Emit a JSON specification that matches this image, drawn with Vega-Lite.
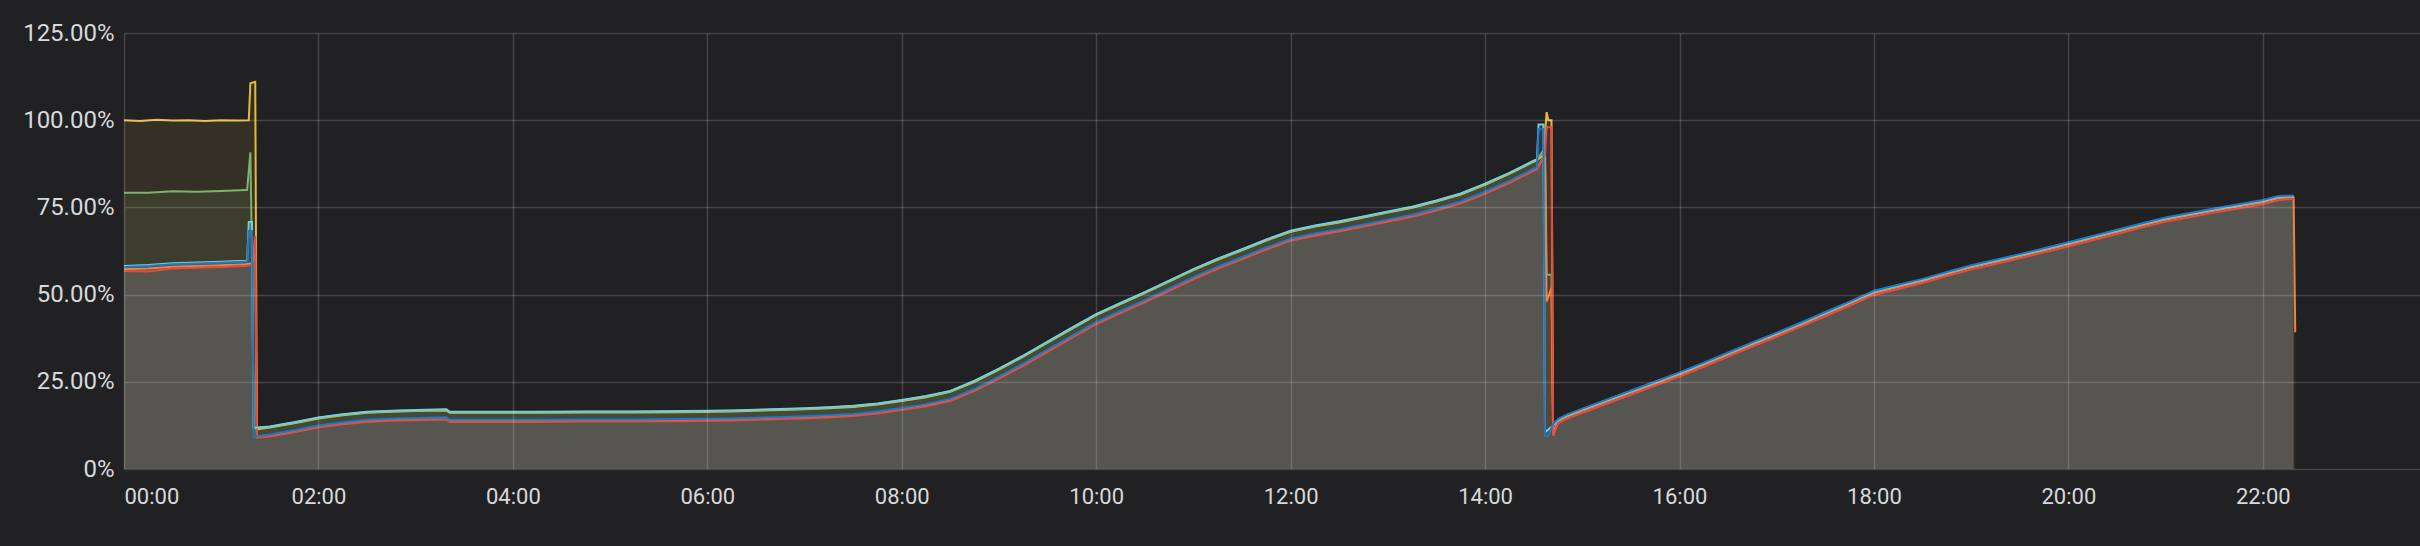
{
  "$schema": "https://vega.github.io/schema/vega-lite/v6.json",
  "width": 2296,
  "height": 436,
  "autosize": {"type": "none"},
  "padding": {"left": 124, "top": 33, "right": 0, "bottom": 77},
  "background": "#212124",
  "config": {
    "view": {"stroke": null},
    "axis": {
      "labelFont": "Roboto",
      "labelColor": "#d8d9da",
      "gridColor": "#ffffff",
      "gridOpacity": 0.16,
      "gridWidth": 1.5,
      "domain": false,
      "ticks": false,
      "title": null
    }
  },
  "data": {
    "values": [
      {"t":"2024-01-01T00:00Z","s":"1Y","v":100.0},{"t":"2024-01-01T00:10Z","s":"1Y","v":99.8},{"t":"2024-01-01T00:20Z","s":"1Y","v":100.1},{"t":"2024-01-01T00:30Z","s":"1Y","v":99.9},{"t":"2024-01-01T00:40Z","s":"1Y","v":100.0},{"t":"2024-01-01T00:50Z","s":"1Y","v":99.8},{"t":"2024-01-01T01:00Z","s":"1Y","v":100.0},{"t":"2024-01-01T01:10Z","s":"1Y","v":99.9},{"t":"2024-01-01T01:17Z","s":"1Y","v":100.0},{"t":"2024-01-01T01:18Z","s":"1Y","v":110.6},{"t":"2024-01-01T01:21Z","s":"1Y","v":111.0},{"t":"2024-01-01T01:22Z","s":"1Y","v":11.4},
      {"t":"2024-01-01T01:30Z","s":"1Y","v":11.9},{"t":"2024-01-01T01:45Z","s":"1Y","v":13.1},{"t":"2024-01-01T02:00Z","s":"1Y","v":14.5},{"t":"2024-01-01T02:15Z","s":"1Y","v":15.4},{"t":"2024-01-01T02:30Z","s":"1Y","v":16.1},{"t":"2024-01-01T02:45Z","s":"1Y","v":16.4},{"t":"2024-01-01T03:00Z","s":"1Y","v":16.6},{"t":"2024-01-01T03:19Z","s":"1Y","v":16.8},{"t":"2024-01-01T03:21Z","s":"1Y","v":16.1},{"t":"2024-01-01T03:45Z","s":"1Y","v":16.1},{"t":"2024-01-01T04:15Z","s":"1Y","v":16.1},{"t":"2024-01-01T04:45Z","s":"1Y","v":16.2},{"t":"2024-01-01T05:15Z","s":"1Y","v":16.2},{"t":"2024-01-01T05:45Z","s":"1Y","v":16.3},{"t":"2024-01-01T06:15Z","s":"1Y","v":16.5},{"t":"2024-01-01T06:30Z","s":"1Y","v":16.7},{"t":"2024-01-01T06:45Z","s":"1Y","v":16.9},{"t":"2024-01-01T07:00Z","s":"1Y","v":17.1},{"t":"2024-01-01T07:15Z","s":"1Y","v":17.4},{"t":"2024-01-01T07:30Z","s":"1Y","v":17.8},{"t":"2024-01-01T07:45Z","s":"1Y","v":18.5},{"t":"2024-01-01T08:00Z","s":"1Y","v":19.5},{"t":"2024-01-01T08:15Z","s":"1Y","v":20.6},{"t":"2024-01-01T08:30Z","s":"1Y","v":22.1},{"t":"2024-01-01T08:45Z","s":"1Y","v":25.0},{"t":"2024-01-01T09:00Z","s":"1Y","v":28.5},{"t":"2024-01-01T09:15Z","s":"1Y","v":32.2},{"t":"2024-01-01T09:30Z","s":"1Y","v":36.2},{"t":"2024-01-01T09:45Z","s":"1Y","v":40.2},{"t":"2024-01-01T10:00Z","s":"1Y","v":44.1},{"t":"2024-01-01T10:15Z","s":"1Y","v":47.3},{"t":"2024-01-01T10:30Z","s":"1Y","v":50.4},{"t":"2024-01-01T10:45Z","s":"1Y","v":53.7},{"t":"2024-01-01T11:00Z","s":"1Y","v":57.0},{"t":"2024-01-01T11:15Z","s":"1Y","v":60.0},{"t":"2024-01-01T11:30Z","s":"1Y","v":62.7},{"t":"2024-01-01T11:45Z","s":"1Y","v":65.5},{"t":"2024-01-01T12:00Z","s":"1Y","v":68.0},{"t":"2024-01-01T12:15Z","s":"1Y","v":69.5},{"t":"2024-01-01T12:30Z","s":"1Y","v":70.7},{"t":"2024-01-01T12:45Z","s":"1Y","v":72.1},{"t":"2024-01-01T13:00Z","s":"1Y","v":73.5},{"t":"2024-01-01T13:15Z","s":"1Y","v":74.9},{"t":"2024-01-01T13:30Z","s":"1Y","v":76.7},{"t":"2024-01-01T13:45Z","s":"1Y","v":78.7},{"t":"2024-01-01T14:00Z","s":"1Y","v":81.5},{"t":"2024-01-01T14:15Z","s":"1Y","v":84.6},{"t":"2024-01-01T14:30Z","s":"1Y","v":88.1},{"t":"2024-01-01T14:32Z","s":"1Y","v":88.5},{"t":"2024-01-01T14:36Z","s":"1Y","v":90.0},{"t":"2024-01-01T14:38Z","s":"1Y","v":102.3},{"t":"2024-01-01T14:39Z","s":"1Y","v":100.0},{"t":"2024-01-01T14:41Z","s":"1Y","v":100.0},{"t":"2024-01-01T14:42Z","s":"1Y","v":10.0},
      {"t":"2024-01-01T14:45Z","s":"1Y","v":13.9},{"t":"2024-01-01T14:50Z","s":"1Y","v":15.1},{"t":"2024-01-01T15:00Z","s":"1Y","v":16.9},{"t":"2024-01-01T15:15Z","s":"1Y","v":19.5},{"t":"2024-01-01T15:30Z","s":"1Y","v":22.1},{"t":"2024-01-01T15:45Z","s":"1Y","v":24.7},{"t":"2024-01-01T16:00Z","s":"1Y","v":27.3},{"t":"2024-01-01T16:15Z","s":"1Y","v":30.1},{"t":"2024-01-01T16:30Z","s":"1Y","v":33.0},{"t":"2024-01-01T16:45Z","s":"1Y","v":35.9},{"t":"2024-01-01T17:00Z","s":"1Y","v":38.7},{"t":"2024-01-01T17:15Z","s":"1Y","v":41.6},{"t":"2024-01-01T17:30Z","s":"1Y","v":44.6},{"t":"2024-01-01T17:45Z","s":"1Y","v":47.6},{"t":"2024-01-01T18:00Z","s":"1Y","v":50.7},{"t":"2024-01-01T18:15Z","s":"1Y","v":52.4},{"t":"2024-01-01T18:30Z","s":"1Y","v":54.1},{"t":"2024-01-01T18:45Z","s":"1Y","v":56.1},{"t":"2024-01-01T19:00Z","s":"1Y","v":58.0},{"t":"2024-01-01T19:15Z","s":"1Y","v":59.6},{"t":"2024-01-01T19:30Z","s":"1Y","v":61.2},{"t":"2024-01-01T19:45Z","s":"1Y","v":62.9},{"t":"2024-01-01T20:00Z","s":"1Y","v":64.6},{"t":"2024-01-01T20:15Z","s":"1Y","v":66.4},{"t":"2024-01-01T20:30Z","s":"1Y","v":68.2},{"t":"2024-01-01T20:45Z","s":"1Y","v":70.0},{"t":"2024-01-01T21:00Z","s":"1Y","v":71.7},{"t":"2024-01-01T21:15Z","s":"1Y","v":73.0},{"t":"2024-01-01T21:30Z","s":"1Y","v":74.3},{"t":"2024-01-01T21:45Z","s":"1Y","v":75.5},{"t":"2024-01-01T22:00Z","s":"1Y","v":76.7},{"t":"2024-01-01T22:10Z","s":"1Y","v":77.9},{"t":"2024-01-01T22:19Z","s":"1Y","v":78.0},

      {"t":"2024-01-01T00:00Z","s":"2G","v":79.2},{"t":"2024-01-01T00:15Z","s":"2G","v":79.2},{"t":"2024-01-01T00:30Z","s":"2G","v":79.6},{"t":"2024-01-01T00:45Z","s":"2G","v":79.5},{"t":"2024-01-01T01:00Z","s":"2G","v":79.7},{"t":"2024-01-01T01:15Z","s":"2G","v":80.0},{"t":"2024-01-01T01:16Z","s":"2G","v":80.0},{"t":"2024-01-01T01:18Z","s":"2G","v":90.8},{"t":"2024-01-01T01:19Z","s":"2G","v":61.0},{"t":"2024-01-01T01:20Z","s":"2G","v":11.7},
      {"t":"2024-01-01T01:30Z","s":"2G","v":12.1},{"t":"2024-01-01T01:45Z","s":"2G","v":13.3},{"t":"2024-01-01T02:00Z","s":"2G","v":14.7},{"t":"2024-01-01T02:15Z","s":"2G","v":15.6},{"t":"2024-01-01T02:30Z","s":"2G","v":16.3},{"t":"2024-01-01T02:45Z","s":"2G","v":16.6},{"t":"2024-01-01T03:00Z","s":"2G","v":16.8},{"t":"2024-01-01T03:19Z","s":"2G","v":17.0},{"t":"2024-01-01T03:21Z","s":"2G","v":16.3},{"t":"2024-01-01T03:45Z","s":"2G","v":16.3},{"t":"2024-01-01T04:15Z","s":"2G","v":16.3},{"t":"2024-01-01T04:45Z","s":"2G","v":16.4},{"t":"2024-01-01T05:15Z","s":"2G","v":16.4},{"t":"2024-01-01T05:45Z","s":"2G","v":16.5},{"t":"2024-01-01T06:15Z","s":"2G","v":16.7},{"t":"2024-01-01T06:30Z","s":"2G","v":16.9},{"t":"2024-01-01T06:45Z","s":"2G","v":17.1},{"t":"2024-01-01T07:00Z","s":"2G","v":17.3},{"t":"2024-01-01T07:15Z","s":"2G","v":17.6},{"t":"2024-01-01T07:30Z","s":"2G","v":18.0},{"t":"2024-01-01T07:45Z","s":"2G","v":18.7},{"t":"2024-01-01T08:00Z","s":"2G","v":19.7},{"t":"2024-01-01T08:15Z","s":"2G","v":20.8},{"t":"2024-01-01T08:30Z","s":"2G","v":22.3},{"t":"2024-01-01T08:45Z","s":"2G","v":25.2},{"t":"2024-01-01T09:00Z","s":"2G","v":28.7},{"t":"2024-01-01T09:15Z","s":"2G","v":32.4},{"t":"2024-01-01T09:30Z","s":"2G","v":36.4},{"t":"2024-01-01T09:45Z","s":"2G","v":40.4},{"t":"2024-01-01T10:00Z","s":"2G","v":44.3},{"t":"2024-01-01T10:15Z","s":"2G","v":47.5},{"t":"2024-01-01T10:30Z","s":"2G","v":50.6},{"t":"2024-01-01T10:45Z","s":"2G","v":53.9},{"t":"2024-01-01T11:00Z","s":"2G","v":57.2},{"t":"2024-01-01T11:15Z","s":"2G","v":60.2},{"t":"2024-01-01T11:30Z","s":"2G","v":62.9},{"t":"2024-01-01T11:45Z","s":"2G","v":65.7},{"t":"2024-01-01T12:00Z","s":"2G","v":68.2},{"t":"2024-01-01T12:15Z","s":"2G","v":69.7},{"t":"2024-01-01T12:30Z","s":"2G","v":70.9},{"t":"2024-01-01T12:45Z","s":"2G","v":72.3},{"t":"2024-01-01T13:00Z","s":"2G","v":73.7},{"t":"2024-01-01T13:15Z","s":"2G","v":75.1},{"t":"2024-01-01T13:30Z","s":"2G","v":76.9},{"t":"2024-01-01T13:45Z","s":"2G","v":78.9},{"t":"2024-01-01T14:00Z","s":"2G","v":81.7},{"t":"2024-01-01T14:15Z","s":"2G","v":84.8},{"t":"2024-01-01T14:30Z","s":"2G","v":88.3},{"t":"2024-01-01T14:32Z","s":"2G","v":88.7},{"t":"2024-01-01T14:37Z","s":"2G","v":92.0},{"t":"2024-01-01T14:38Z","s":"2G","v":55.7},{"t":"2024-01-01T14:41Z","s":"2G","v":55.7},{"t":"2024-01-01T14:42Z","s":"2G","v":10.2},
      {"t":"2024-01-01T14:45Z","s":"2G","v":13.8},{"t":"2024-01-01T14:50Z","s":"2G","v":15.0},{"t":"2024-01-01T15:00Z","s":"2G","v":16.8},{"t":"2024-01-01T15:15Z","s":"2G","v":19.4},{"t":"2024-01-01T15:30Z","s":"2G","v":22.0},{"t":"2024-01-01T15:45Z","s":"2G","v":24.6},{"t":"2024-01-01T16:00Z","s":"2G","v":27.2},{"t":"2024-01-01T16:15Z","s":"2G","v":30.0},{"t":"2024-01-01T16:30Z","s":"2G","v":32.9},{"t":"2024-01-01T16:45Z","s":"2G","v":35.8},{"t":"2024-01-01T17:00Z","s":"2G","v":38.6},{"t":"2024-01-01T17:15Z","s":"2G","v":41.5},{"t":"2024-01-01T17:30Z","s":"2G","v":44.5},{"t":"2024-01-01T17:45Z","s":"2G","v":47.5},{"t":"2024-01-01T18:00Z","s":"2G","v":50.6},{"t":"2024-01-01T18:15Z","s":"2G","v":52.3},{"t":"2024-01-01T18:30Z","s":"2G","v":54.0},{"t":"2024-01-01T18:45Z","s":"2G","v":56.0},{"t":"2024-01-01T19:00Z","s":"2G","v":57.9},{"t":"2024-01-01T19:15Z","s":"2G","v":59.5},{"t":"2024-01-01T19:30Z","s":"2G","v":61.1},{"t":"2024-01-01T19:45Z","s":"2G","v":62.8},{"t":"2024-01-01T20:00Z","s":"2G","v":64.5},{"t":"2024-01-01T20:15Z","s":"2G","v":66.3},{"t":"2024-01-01T20:30Z","s":"2G","v":68.1},{"t":"2024-01-01T20:45Z","s":"2G","v":69.9},{"t":"2024-01-01T21:00Z","s":"2G","v":71.6},{"t":"2024-01-01T21:15Z","s":"2G","v":72.9},{"t":"2024-01-01T21:30Z","s":"2G","v":74.2},{"t":"2024-01-01T21:45Z","s":"2G","v":75.4},{"t":"2024-01-01T22:00Z","s":"2G","v":76.6},{"t":"2024-01-01T22:10Z","s":"2G","v":77.8},{"t":"2024-01-01T22:19Z","s":"2G","v":77.9},

      {"t":"2024-01-01T00:00Z","s":"3O","v":57.3},{"t":"2024-01-01T00:15Z","s":"3O","v":57.5},{"t":"2024-01-01T00:30Z","s":"3O","v":58.0},{"t":"2024-01-01T00:45Z","s":"3O","v":58.2},{"t":"2024-01-01T01:00Z","s":"3O","v":58.4},{"t":"2024-01-01T01:15Z","s":"3O","v":58.7},{"t":"2024-01-01T01:19Z","s":"3O","v":59.0},{"t":"2024-01-01T01:21Z","s":"3O","v":62.0},{"t":"2024-01-01T01:22Z","s":"3O","v":9.4},
      {"t":"2024-01-01T01:30Z","s":"3O","v":9.6},{"t":"2024-01-01T01:45Z","s":"3O","v":10.8},{"t":"2024-01-01T02:00Z","s":"3O","v":12.2},{"t":"2024-01-01T02:15Z","s":"3O","v":13.1},{"t":"2024-01-01T02:30Z","s":"3O","v":13.8},{"t":"2024-01-01T02:45Z","s":"3O","v":14.1},{"t":"2024-01-01T03:00Z","s":"3O","v":14.3},{"t":"2024-01-01T03:19Z","s":"3O","v":14.5},{"t":"2024-01-01T03:21Z","s":"3O","v":13.8},{"t":"2024-01-01T03:45Z","s":"3O","v":13.8},{"t":"2024-01-01T04:15Z","s":"3O","v":13.8},{"t":"2024-01-01T04:45Z","s":"3O","v":13.9},{"t":"2024-01-01T05:15Z","s":"3O","v":13.9},{"t":"2024-01-01T05:45Z","s":"3O","v":14.0},{"t":"2024-01-01T06:15Z","s":"3O","v":14.2},{"t":"2024-01-01T06:30Z","s":"3O","v":14.4},{"t":"2024-01-01T06:45Z","s":"3O","v":14.6},{"t":"2024-01-01T07:00Z","s":"3O","v":14.8},{"t":"2024-01-01T07:15Z","s":"3O","v":15.1},{"t":"2024-01-01T07:30Z","s":"3O","v":15.5},{"t":"2024-01-01T07:45Z","s":"3O","v":16.2},{"t":"2024-01-01T08:00Z","s":"3O","v":17.2},{"t":"2024-01-01T08:15Z","s":"3O","v":18.3},{"t":"2024-01-01T08:30Z","s":"3O","v":19.8},{"t":"2024-01-01T08:45Z","s":"3O","v":22.7},{"t":"2024-01-01T09:00Z","s":"3O","v":26.2},{"t":"2024-01-01T09:15Z","s":"3O","v":29.9},{"t":"2024-01-01T09:30Z","s":"3O","v":33.9},{"t":"2024-01-01T09:45Z","s":"3O","v":37.9},{"t":"2024-01-01T10:00Z","s":"3O","v":41.8},{"t":"2024-01-01T10:15Z","s":"3O","v":45.0},{"t":"2024-01-01T10:30Z","s":"3O","v":48.1},{"t":"2024-01-01T10:45Z","s":"3O","v":51.4},{"t":"2024-01-01T11:00Z","s":"3O","v":54.7},{"t":"2024-01-01T11:15Z","s":"3O","v":57.7},{"t":"2024-01-01T11:30Z","s":"3O","v":60.4},{"t":"2024-01-01T11:45Z","s":"3O","v":63.2},{"t":"2024-01-01T12:00Z","s":"3O","v":65.7},{"t":"2024-01-01T12:15Z","s":"3O","v":67.2},{"t":"2024-01-01T12:30Z","s":"3O","v":68.4},{"t":"2024-01-01T12:45Z","s":"3O","v":69.8},{"t":"2024-01-01T13:00Z","s":"3O","v":71.2},{"t":"2024-01-01T13:15Z","s":"3O","v":72.6},{"t":"2024-01-01T13:30Z","s":"3O","v":74.4},{"t":"2024-01-01T13:45Z","s":"3O","v":76.4},{"t":"2024-01-01T14:00Z","s":"3O","v":79.2},{"t":"2024-01-01T14:15Z","s":"3O","v":82.3},{"t":"2024-01-01T14:30Z","s":"3O","v":85.8},{"t":"2024-01-01T14:32Z","s":"3O","v":86.2},{"t":"2024-01-01T14:37Z","s":"3O","v":90.0},{"t":"2024-01-01T14:38Z","s":"3O","v":48.0},{"t":"2024-01-01T14:41Z","s":"3O","v":52.0},{"t":"2024-01-01T14:42Z","s":"3O","v":9.8},
      {"t":"2024-01-01T14:45Z","s":"3O","v":13.7},{"t":"2024-01-01T14:50Z","s":"3O","v":14.9},{"t":"2024-01-01T15:00Z","s":"3O","v":16.7},{"t":"2024-01-01T15:15Z","s":"3O","v":19.3},{"t":"2024-01-01T15:30Z","s":"3O","v":21.9},{"t":"2024-01-01T15:45Z","s":"3O","v":24.5},{"t":"2024-01-01T16:00Z","s":"3O","v":27.1},{"t":"2024-01-01T16:15Z","s":"3O","v":29.9},{"t":"2024-01-01T16:30Z","s":"3O","v":32.8},{"t":"2024-01-01T16:45Z","s":"3O","v":35.7},{"t":"2024-01-01T17:00Z","s":"3O","v":38.5},{"t":"2024-01-01T17:15Z","s":"3O","v":41.4},{"t":"2024-01-01T17:30Z","s":"3O","v":44.4},{"t":"2024-01-01T17:45Z","s":"3O","v":47.4},{"t":"2024-01-01T18:00Z","s":"3O","v":50.5},{"t":"2024-01-01T18:15Z","s":"3O","v":52.2},{"t":"2024-01-01T18:30Z","s":"3O","v":53.9},{"t":"2024-01-01T18:45Z","s":"3O","v":55.9},{"t":"2024-01-01T19:00Z","s":"3O","v":57.8},{"t":"2024-01-01T19:15Z","s":"3O","v":59.4},{"t":"2024-01-01T19:30Z","s":"3O","v":61.0},{"t":"2024-01-01T19:45Z","s":"3O","v":62.7},{"t":"2024-01-01T20:00Z","s":"3O","v":64.4},{"t":"2024-01-01T20:15Z","s":"3O","v":66.2},{"t":"2024-01-01T20:30Z","s":"3O","v":68.0},{"t":"2024-01-01T20:45Z","s":"3O","v":69.8},{"t":"2024-01-01T21:00Z","s":"3O","v":71.5},{"t":"2024-01-01T21:15Z","s":"3O","v":72.8},{"t":"2024-01-01T21:30Z","s":"3O","v":74.1},{"t":"2024-01-01T21:45Z","s":"3O","v":75.3},{"t":"2024-01-01T22:00Z","s":"3O","v":76.5},{"t":"2024-01-01T22:10Z","s":"3O","v":77.7},{"t":"2024-01-01T22:19Z","s":"3O","v":77.8},{"t":"2024-01-01T22:20Z","s":"3O","v":39.2},

      {"t":"2024-01-01T00:00Z","s":"4R","v":56.8},{"t":"2024-01-01T00:15Z","s":"4R","v":56.6},{"t":"2024-01-01T00:30Z","s":"4R","v":57.5},{"t":"2024-01-01T00:45Z","s":"4R","v":57.7},{"t":"2024-01-01T01:00Z","s":"4R","v":57.9},{"t":"2024-01-01T01:15Z","s":"4R","v":58.2},{"t":"2024-01-01T01:19Z","s":"4R","v":58.5},{"t":"2024-01-01T01:21Z","s":"4R","v":66.8},{"t":"2024-01-01T01:22Z","s":"4R","v":9.0},
      {"t":"2024-01-01T01:30Z","s":"4R","v":9.3},{"t":"2024-01-01T01:45Z","s":"4R","v":10.5},{"t":"2024-01-01T02:00Z","s":"4R","v":11.9},{"t":"2024-01-01T02:15Z","s":"4R","v":12.8},{"t":"2024-01-01T02:30Z","s":"4R","v":13.5},{"t":"2024-01-01T02:45Z","s":"4R","v":13.8},{"t":"2024-01-01T03:00Z","s":"4R","v":14.0},{"t":"2024-01-01T03:19Z","s":"4R","v":14.2},{"t":"2024-01-01T03:21Z","s":"4R","v":13.5},{"t":"2024-01-01T03:45Z","s":"4R","v":13.5},{"t":"2024-01-01T04:15Z","s":"4R","v":13.5},{"t":"2024-01-01T04:45Z","s":"4R","v":13.6},{"t":"2024-01-01T05:15Z","s":"4R","v":13.6},{"t":"2024-01-01T05:45Z","s":"4R","v":13.7},{"t":"2024-01-01T06:15Z","s":"4R","v":13.9},{"t":"2024-01-01T06:30Z","s":"4R","v":14.1},{"t":"2024-01-01T06:45Z","s":"4R","v":14.3},{"t":"2024-01-01T07:00Z","s":"4R","v":14.5},{"t":"2024-01-01T07:15Z","s":"4R","v":14.8},{"t":"2024-01-01T07:30Z","s":"4R","v":15.2},{"t":"2024-01-01T07:45Z","s":"4R","v":15.9},{"t":"2024-01-01T08:00Z","s":"4R","v":16.9},{"t":"2024-01-01T08:15Z","s":"4R","v":18.0},{"t":"2024-01-01T08:30Z","s":"4R","v":19.5},{"t":"2024-01-01T08:45Z","s":"4R","v":22.4},{"t":"2024-01-01T09:00Z","s":"4R","v":25.9},{"t":"2024-01-01T09:15Z","s":"4R","v":29.6},{"t":"2024-01-01T09:30Z","s":"4R","v":33.6},{"t":"2024-01-01T09:45Z","s":"4R","v":37.6},{"t":"2024-01-01T10:00Z","s":"4R","v":41.5},{"t":"2024-01-01T10:15Z","s":"4R","v":44.7},{"t":"2024-01-01T10:30Z","s":"4R","v":47.8},{"t":"2024-01-01T10:45Z","s":"4R","v":51.1},{"t":"2024-01-01T11:00Z","s":"4R","v":54.4},{"t":"2024-01-01T11:15Z","s":"4R","v":57.4},{"t":"2024-01-01T11:30Z","s":"4R","v":60.1},{"t":"2024-01-01T11:45Z","s":"4R","v":62.9},{"t":"2024-01-01T12:00Z","s":"4R","v":65.4},{"t":"2024-01-01T12:15Z","s":"4R","v":66.9},{"t":"2024-01-01T12:30Z","s":"4R","v":68.1},{"t":"2024-01-01T12:45Z","s":"4R","v":69.5},{"t":"2024-01-01T13:00Z","s":"4R","v":70.9},{"t":"2024-01-01T13:15Z","s":"4R","v":72.3},{"t":"2024-01-01T13:30Z","s":"4R","v":74.1},{"t":"2024-01-01T13:45Z","s":"4R","v":76.1},{"t":"2024-01-01T14:00Z","s":"4R","v":78.9},{"t":"2024-01-01T14:15Z","s":"4R","v":82.0},{"t":"2024-01-01T14:30Z","s":"4R","v":85.5},{"t":"2024-01-01T14:32Z","s":"4R","v":85.9},{"t":"2024-01-01T14:37Z","s":"4R","v":90.0},{"t":"2024-01-01T14:38Z","s":"4R","v":98.0},{"t":"2024-01-01T14:41Z","s":"4R","v":98.0},{"t":"2024-01-01T14:42Z","s":"4R","v":9.5},
      {"t":"2024-01-01T14:45Z","s":"4R","v":13.1},{"t":"2024-01-01T14:50Z","s":"4R","v":14.3},{"t":"2024-01-01T15:00Z","s":"4R","v":16.1},{"t":"2024-01-01T15:15Z","s":"4R","v":18.7},{"t":"2024-01-01T15:30Z","s":"4R","v":21.3},{"t":"2024-01-01T15:45Z","s":"4R","v":23.9},{"t":"2024-01-01T16:00Z","s":"4R","v":26.5},{"t":"2024-01-01T16:15Z","s":"4R","v":29.3},{"t":"2024-01-01T16:30Z","s":"4R","v":32.2},{"t":"2024-01-01T16:45Z","s":"4R","v":35.1},{"t":"2024-01-01T17:00Z","s":"4R","v":37.9},{"t":"2024-01-01T17:15Z","s":"4R","v":40.8},{"t":"2024-01-01T17:30Z","s":"4R","v":43.8},{"t":"2024-01-01T17:45Z","s":"4R","v":46.8},{"t":"2024-01-01T18:00Z","s":"4R","v":49.9},{"t":"2024-01-01T18:15Z","s":"4R","v":51.6},{"t":"2024-01-01T18:30Z","s":"4R","v":53.3},{"t":"2024-01-01T18:45Z","s":"4R","v":55.3},{"t":"2024-01-01T19:00Z","s":"4R","v":57.2},{"t":"2024-01-01T19:15Z","s":"4R","v":58.8},{"t":"2024-01-01T19:30Z","s":"4R","v":60.4},{"t":"2024-01-01T19:45Z","s":"4R","v":62.1},{"t":"2024-01-01T20:00Z","s":"4R","v":63.8},{"t":"2024-01-01T20:15Z","s":"4R","v":65.6},{"t":"2024-01-01T20:30Z","s":"4R","v":67.4},{"t":"2024-01-01T20:45Z","s":"4R","v":69.2},{"t":"2024-01-01T21:00Z","s":"4R","v":70.9},{"t":"2024-01-01T21:15Z","s":"4R","v":72.2},{"t":"2024-01-01T21:30Z","s":"4R","v":73.5},{"t":"2024-01-01T21:45Z","s":"4R","v":74.7},{"t":"2024-01-01T22:00Z","s":"4R","v":75.9},{"t":"2024-01-01T22:10Z","s":"4R","v":77.1},{"t":"2024-01-01T22:19Z","s":"4R","v":77.5},

      {"t":"2024-01-01T00:00Z","s":"5C","v":58.2},{"t":"2024-01-01T00:15Z","s":"5C","v":58.5},{"t":"2024-01-01T00:30Z","s":"5C","v":59.0},{"t":"2024-01-01T00:45Z","s":"5C","v":59.2},{"t":"2024-01-01T01:00Z","s":"5C","v":59.4},{"t":"2024-01-01T01:15Z","s":"5C","v":59.7},{"t":"2024-01-01T01:16Z","s":"5C","v":59.8},{"t":"2024-01-01T01:17Z","s":"5C","v":70.8},{"t":"2024-01-01T01:19Z","s":"5C","v":70.8},{"t":"2024-01-01T01:20Z","s":"5C","v":11.8},
      {"t":"2024-01-01T01:30Z","s":"5C","v":12.2},{"t":"2024-01-01T01:45Z","s":"5C","v":13.4},{"t":"2024-01-01T02:00Z","s":"5C","v":14.8},{"t":"2024-01-01T02:15Z","s":"5C","v":15.7},{"t":"2024-01-01T02:30Z","s":"5C","v":16.4},{"t":"2024-01-01T02:45Z","s":"5C","v":16.7},{"t":"2024-01-01T03:00Z","s":"5C","v":16.9},{"t":"2024-01-01T03:19Z","s":"5C","v":17.1},{"t":"2024-01-01T03:21Z","s":"5C","v":16.4},{"t":"2024-01-01T03:45Z","s":"5C","v":16.4},{"t":"2024-01-01T04:15Z","s":"5C","v":16.4},{"t":"2024-01-01T04:45Z","s":"5C","v":16.5},{"t":"2024-01-01T05:15Z","s":"5C","v":16.5},{"t":"2024-01-01T05:45Z","s":"5C","v":16.6},{"t":"2024-01-01T06:15Z","s":"5C","v":16.8},{"t":"2024-01-01T06:30Z","s":"5C","v":17.0},{"t":"2024-01-01T06:45Z","s":"5C","v":17.2},{"t":"2024-01-01T07:00Z","s":"5C","v":17.4},{"t":"2024-01-01T07:15Z","s":"5C","v":17.7},{"t":"2024-01-01T07:30Z","s":"5C","v":18.1},{"t":"2024-01-01T07:45Z","s":"5C","v":18.8},{"t":"2024-01-01T08:00Z","s":"5C","v":19.8},{"t":"2024-01-01T08:15Z","s":"5C","v":20.9},{"t":"2024-01-01T08:30Z","s":"5C","v":22.4},{"t":"2024-01-01T08:45Z","s":"5C","v":25.3},{"t":"2024-01-01T09:00Z","s":"5C","v":28.8},{"t":"2024-01-01T09:15Z","s":"5C","v":32.5},{"t":"2024-01-01T09:30Z","s":"5C","v":36.5},{"t":"2024-01-01T09:45Z","s":"5C","v":40.5},{"t":"2024-01-01T10:00Z","s":"5C","v":44.4},{"t":"2024-01-01T10:15Z","s":"5C","v":47.6},{"t":"2024-01-01T10:30Z","s":"5C","v":50.7},{"t":"2024-01-01T10:45Z","s":"5C","v":54.0},{"t":"2024-01-01T11:00Z","s":"5C","v":57.3},{"t":"2024-01-01T11:15Z","s":"5C","v":60.3},{"t":"2024-01-01T11:30Z","s":"5C","v":63.0},{"t":"2024-01-01T11:45Z","s":"5C","v":65.8},{"t":"2024-01-01T12:00Z","s":"5C","v":68.3},{"t":"2024-01-01T12:15Z","s":"5C","v":69.8},{"t":"2024-01-01T12:30Z","s":"5C","v":71.0},{"t":"2024-01-01T12:45Z","s":"5C","v":72.4},{"t":"2024-01-01T13:00Z","s":"5C","v":73.8},{"t":"2024-01-01T13:15Z","s":"5C","v":75.2},{"t":"2024-01-01T13:30Z","s":"5C","v":77.0},{"t":"2024-01-01T13:45Z","s":"5C","v":79.0},{"t":"2024-01-01T14:00Z","s":"5C","v":81.8},{"t":"2024-01-01T14:15Z","s":"5C","v":84.9},{"t":"2024-01-01T14:30Z","s":"5C","v":88.4},{"t":"2024-01-01T14:32Z","s":"5C","v":88.8},{"t":"2024-01-01T14:33Z","s":"5C","v":98.8},{"t":"2024-01-01T14:36Z","s":"5C","v":98.8},{"t":"2024-01-01T14:37Z","s":"5C","v":10.5},
      {"t":"2024-01-01T14:42Z","s":"5C","v":12.5},{"t":"2024-01-01T14:45Z","s":"5C","v":14.1},{"t":"2024-01-01T14:50Z","s":"5C","v":15.3},{"t":"2024-01-01T15:00Z","s":"5C","v":17.1},{"t":"2024-01-01T15:15Z","s":"5C","v":19.7},{"t":"2024-01-01T15:30Z","s":"5C","v":22.3},{"t":"2024-01-01T15:45Z","s":"5C","v":24.9},{"t":"2024-01-01T16:00Z","s":"5C","v":27.5},{"t":"2024-01-01T16:15Z","s":"5C","v":30.3},{"t":"2024-01-01T16:30Z","s":"5C","v":33.2},{"t":"2024-01-01T16:45Z","s":"5C","v":36.1},{"t":"2024-01-01T17:00Z","s":"5C","v":38.9},{"t":"2024-01-01T17:15Z","s":"5C","v":41.8},{"t":"2024-01-01T17:30Z","s":"5C","v":44.8},{"t":"2024-01-01T17:45Z","s":"5C","v":47.8},{"t":"2024-01-01T18:00Z","s":"5C","v":50.9},{"t":"2024-01-01T18:15Z","s":"5C","v":52.6},{"t":"2024-01-01T18:30Z","s":"5C","v":54.3},{"t":"2024-01-01T18:45Z","s":"5C","v":56.3},{"t":"2024-01-01T19:00Z","s":"5C","v":58.2},{"t":"2024-01-01T19:15Z","s":"5C","v":59.8},{"t":"2024-01-01T19:30Z","s":"5C","v":61.4},{"t":"2024-01-01T19:45Z","s":"5C","v":63.1},{"t":"2024-01-01T20:00Z","s":"5C","v":64.8},{"t":"2024-01-01T20:15Z","s":"5C","v":66.6},{"t":"2024-01-01T20:30Z","s":"5C","v":68.4},{"t":"2024-01-01T20:45Z","s":"5C","v":70.2},{"t":"2024-01-01T21:00Z","s":"5C","v":71.9},{"t":"2024-01-01T21:15Z","s":"5C","v":73.2},{"t":"2024-01-01T21:30Z","s":"5C","v":74.5},{"t":"2024-01-01T21:45Z","s":"5C","v":75.7},{"t":"2024-01-01T22:00Z","s":"5C","v":76.9},{"t":"2024-01-01T22:10Z","s":"5C","v":78.1},{"t":"2024-01-01T22:19Z","s":"5C","v":78.2},

      {"t":"2024-01-01T00:00Z","s":"6B","v":57.9},{"t":"2024-01-01T00:15Z","s":"6B","v":58.2},{"t":"2024-01-01T00:30Z","s":"6B","v":58.7},{"t":"2024-01-01T00:45Z","s":"6B","v":58.9},{"t":"2024-01-01T01:00Z","s":"6B","v":59.1},{"t":"2024-01-01T01:15Z","s":"6B","v":59.4},{"t":"2024-01-01T01:16Z","s":"6B","v":59.4},{"t":"2024-01-01T01:17Z","s":"6B","v":68.2},{"t":"2024-01-01T01:19Z","s":"6B","v":68.2},{"t":"2024-01-01T01:20Z","s":"6B","v":9.2},
      {"t":"2024-01-01T01:30Z","s":"6B","v":9.9},{"t":"2024-01-01T01:45Z","s":"6B","v":11.1},{"t":"2024-01-01T02:00Z","s":"6B","v":12.5},{"t":"2024-01-01T02:15Z","s":"6B","v":13.4},{"t":"2024-01-01T02:30Z","s":"6B","v":14.1},{"t":"2024-01-01T02:45Z","s":"6B","v":14.4},{"t":"2024-01-01T03:00Z","s":"6B","v":14.6},{"t":"2024-01-01T03:19Z","s":"6B","v":14.8},{"t":"2024-01-01T03:21Z","s":"6B","v":14.1},{"t":"2024-01-01T03:45Z","s":"6B","v":14.1},{"t":"2024-01-01T04:15Z","s":"6B","v":14.1},{"t":"2024-01-01T04:45Z","s":"6B","v":14.2},{"t":"2024-01-01T05:15Z","s":"6B","v":14.2},{"t":"2024-01-01T05:45Z","s":"6B","v":14.3},{"t":"2024-01-01T06:15Z","s":"6B","v":14.5},{"t":"2024-01-01T06:30Z","s":"6B","v":14.7},{"t":"2024-01-01T06:45Z","s":"6B","v":14.9},{"t":"2024-01-01T07:00Z","s":"6B","v":15.1},{"t":"2024-01-01T07:15Z","s":"6B","v":15.4},{"t":"2024-01-01T07:30Z","s":"6B","v":15.8},{"t":"2024-01-01T07:45Z","s":"6B","v":16.5},{"t":"2024-01-01T08:00Z","s":"6B","v":17.5},{"t":"2024-01-01T08:15Z","s":"6B","v":18.6},{"t":"2024-01-01T08:30Z","s":"6B","v":20.1},{"t":"2024-01-01T08:45Z","s":"6B","v":23.0},{"t":"2024-01-01T09:00Z","s":"6B","v":26.5},{"t":"2024-01-01T09:15Z","s":"6B","v":30.2},{"t":"2024-01-01T09:30Z","s":"6B","v":34.2},{"t":"2024-01-01T09:45Z","s":"6B","v":38.2},{"t":"2024-01-01T10:00Z","s":"6B","v":42.1},{"t":"2024-01-01T10:15Z","s":"6B","v":45.3},{"t":"2024-01-01T10:30Z","s":"6B","v":48.4},{"t":"2024-01-01T10:45Z","s":"6B","v":51.7},{"t":"2024-01-01T11:00Z","s":"6B","v":55.0},{"t":"2024-01-01T11:15Z","s":"6B","v":58.0},{"t":"2024-01-01T11:30Z","s":"6B","v":60.7},{"t":"2024-01-01T11:45Z","s":"6B","v":63.5},{"t":"2024-01-01T12:00Z","s":"6B","v":66.0},{"t":"2024-01-01T12:15Z","s":"6B","v":67.5},{"t":"2024-01-01T12:30Z","s":"6B","v":68.7},{"t":"2024-01-01T12:45Z","s":"6B","v":70.1},{"t":"2024-01-01T13:00Z","s":"6B","v":71.5},{"t":"2024-01-01T13:15Z","s":"6B","v":72.9},{"t":"2024-01-01T13:30Z","s":"6B","v":74.7},{"t":"2024-01-01T13:45Z","s":"6B","v":76.7},{"t":"2024-01-01T14:00Z","s":"6B","v":79.5},{"t":"2024-01-01T14:15Z","s":"6B","v":82.6},{"t":"2024-01-01T14:30Z","s":"6B","v":86.1},{"t":"2024-01-01T14:32Z","s":"6B","v":86.5},{"t":"2024-01-01T14:33Z","s":"6B","v":97.4},{"t":"2024-01-01T14:36Z","s":"6B","v":97.4},{"t":"2024-01-01T14:37Z","s":"6B","v":9.5},{"t":"2024-01-01T14:39Z","s":"6B","v":9.6},{"t":"2024-01-01T14:42Z","s":"6B","v":12.9},
      {"t":"2024-01-01T14:45Z","s":"6B","v":14.3},{"t":"2024-01-01T14:50Z","s":"6B","v":15.5},{"t":"2024-01-01T15:00Z","s":"6B","v":17.3},{"t":"2024-01-01T15:15Z","s":"6B","v":19.9},{"t":"2024-01-01T15:30Z","s":"6B","v":22.5},{"t":"2024-01-01T15:45Z","s":"6B","v":25.1},{"t":"2024-01-01T16:00Z","s":"6B","v":27.7},{"t":"2024-01-01T16:15Z","s":"6B","v":30.5},{"t":"2024-01-01T16:30Z","s":"6B","v":33.4},{"t":"2024-01-01T16:45Z","s":"6B","v":36.3},{"t":"2024-01-01T17:00Z","s":"6B","v":39.1},{"t":"2024-01-01T17:15Z","s":"6B","v":42.0},{"t":"2024-01-01T17:30Z","s":"6B","v":45.0},{"t":"2024-01-01T17:45Z","s":"6B","v":48.0},{"t":"2024-01-01T18:00Z","s":"6B","v":51.1},{"t":"2024-01-01T18:15Z","s":"6B","v":52.8},{"t":"2024-01-01T18:30Z","s":"6B","v":54.5},{"t":"2024-01-01T18:45Z","s":"6B","v":56.5},{"t":"2024-01-01T19:00Z","s":"6B","v":58.4},{"t":"2024-01-01T19:15Z","s":"6B","v":60.0},{"t":"2024-01-01T19:30Z","s":"6B","v":61.6},{"t":"2024-01-01T19:45Z","s":"6B","v":63.3},{"t":"2024-01-01T20:00Z","s":"6B","v":65.0},{"t":"2024-01-01T20:15Z","s":"6B","v":66.8},{"t":"2024-01-01T20:30Z","s":"6B","v":68.6},{"t":"2024-01-01T20:45Z","s":"6B","v":70.4},{"t":"2024-01-01T21:00Z","s":"6B","v":72.1},{"t":"2024-01-01T21:15Z","s":"6B","v":73.4},{"t":"2024-01-01T21:30Z","s":"6B","v":74.7},{"t":"2024-01-01T21:45Z","s":"6B","v":75.9},{"t":"2024-01-01T22:00Z","s":"6B","v":77.1},{"t":"2024-01-01T22:10Z","s":"6B","v":78.3},{"t":"2024-01-01T22:19Z","s":"6B","v":78.4}
    ]
  },
  "encoding": {
    "x": {
      "field": "t",
      "type": "temporal",
      "scale": {"type": "utc", "domain": [1704067200000, 1704152220000]},
      "axis": {
        "format": "%H:%M",
        "labelFontSize": 22,
        "labelPadding": 17,
        "zindex": 1,
        "values": [1704067200000, 1704074400000, 1704081600000, 1704088800000, 1704096000000, 1704103200000, 1704110400000, 1704117600000, 1704124800000, 1704132000000, 1704139200000, 1704146400000]
      }
    },
    "y": {
      "field": "v",
      "type": "quantitative",
      "stack": null,
      "scale": {"domain": [0, 125], "nice": false},
      "axis": {"values": [0, 25, 50, 75, 100, 125], "labelFontSize": 24, "labelPadding": 10, "zindex": 1, "labelExpr": "datum.value == 0 ? '0%' : format(datum.value, '.2f') + '%'"}
    },
    "color": {
      "field": "s",
      "type": "nominal",
      "legend": null,
      "scale": {
        "domain": ["1Y", "2G", "3O", "4R", "5C", "6B"],
        "range": ["#EAB839", "#7EB26D", "#EF843C", "#E24D42", "#6ED0E0", "#1F78C1"]
      }
    }
  },
  "layer": [
    {"mark": {"type": "area", "fillOpacity": 0.1}},
    {"mark": {"type": "line", "strokeWidth": 2}}
  ]
}
